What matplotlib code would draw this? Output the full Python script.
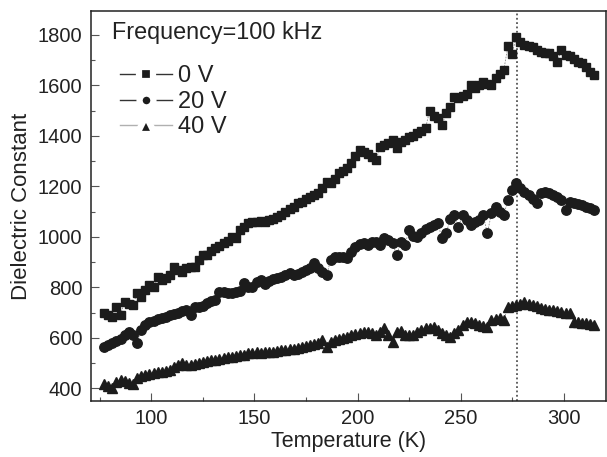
import matplotlib
matplotlib.use("Agg")
import matplotlib.pyplot as plt
from matplotlib.lines import Line2D
from matplotlib.ticker import MultipleLocator

plt.rcParams['font.family'] = ['Liberation Sans', 'DejaVu Sans']

# temperature grid (K)
temp = [77, 79, 81, 83, 85, 87, 89, 91, 93, 95, 97, 99, 101, 103, 105, 107, 109, 111, 113, 115,
        117, 119, 121, 123, 125, 127, 129, 131, 133, 135, 137, 139, 141, 143, 145, 147, 149, 151, 153, 155,
        157, 159, 161, 163, 165, 167, 169, 171, 173, 175, 177, 179, 181, 183, 185, 187, 189, 191, 193, 195,
        197, 199, 201, 203, 205, 207, 209, 211, 213, 215, 217, 219, 221, 223, 225, 227, 229, 231, 233, 235,
        237, 239, 241, 243, 245, 247, 249, 251, 253, 255, 257, 259, 261, 263, 265, 267, 269, 271, 273, 275,
        277, 279, 281, 283, 285, 287, 289, 291, 293, 295, 297, 299, 301, 303, 305, 307, 309, 311, 313, 315]

# 0 V
eps_0v = [700, 690, 684, 724, 692, 744, 735, 730, 777, 763, 790, 810, 803, 843, 829, 836, 850, 882, 870, 862,
          876, 880, 882, 910, 928, 928, 945, 955, 965, 975, 985, 1001, 994, 1027, 1040, 1054, 1060, 1058, 1062, 1060,
          1067, 1070, 1080, 1085, 1100, 1110, 1120, 1135, 1140, 1150, 1159, 1165, 1173, 1195, 1219, 1212, 1230, 1252, 1262, 1272,
          1291, 1320, 1344, 1335, 1328, 1318, 1305, 1357, 1365, 1371, 1384, 1351, 1375, 1384, 1397, 1400, 1410, 1420, 1430, 1500,
          1478, 1470, 1443, 1490, 1515, 1555, 1550, 1560, 1568, 1601, 1590, 1600, 1614, 1605, 1601, 1630, 1645, 1661, 1755, 1725,
          1790, 1773, 1760, 1757, 1753, 1740, 1733, 1730, 1727, 1718, 1694, 1740, 1722, 1716, 1705, 1694, 1687, 1674, 1654, 1641]

# 20 V
eps_20v = [565, 570, 578, 586, 595, 612, 625, 612, 581, 631, 651, 662, 668, 673, 678, 684, 690, 696, 700, 706,
           711, 691, 724, 724, 728, 738, 746, 752, 783, 783, 778, 777, 780, 785, 816, 803, 803, 823, 829, 812,
           826, 833, 836, 843, 850, 856, 849, 855, 862, 870, 878, 895, 876, 860, 849, 909, 920, 922, 920, 915,
           940, 960, 970, 975, 968, 978, 981, 968, 994, 988, 975, 928, 981, 968, 1027, 1005, 1001, 1014, 1030, 1041,
           1047, 1054, 994, 1014, 1070, 1087, 1041, 1087, 1067, 1047, 1060, 1067, 1087, 1014, 1093, 1120, 1100, 1087, 1146, 1186,
           1212, 1192, 1179, 1166, 1150, 1133, 1173, 1179, 1173, 1166, 1160, 1146, 1106, 1140, 1133, 1130, 1126, 1118, 1113, 1107]

# 40 V
eps_40v = [416, 410, 400, 425, 433, 428, 420, 418, 440, 448, 453, 456, 460, 463, 466, 470, 473, 486, 492, 499,
           493, 493, 496, 499, 506, 509, 513, 513, 516, 519, 523, 526, 530, 532, 534, 539, 542, 546, 540, 543,
           546, 546, 549, 552, 552, 555, 557, 559, 563, 567, 572, 575, 580, 592, 562, 585, 590, 595, 598, 604,
           612, 615, 618, 622, 625, 618, 612, 625, 638, 612, 585, 625, 628, 612, 612, 612, 625, 630, 638, 640,
           644, 631, 618, 612, 605, 620, 631, 650, 664, 664, 660, 651, 648, 644, 671, 675, 678, 671, 723, 726,
           730, 736, 743, 736, 730, 726, 717, 715, 712, 711, 708, 704, 700, 697, 664, 662, 660, 658, 655, 651]

labels = ["0 V", "20 V", "40 V"]
markers = ["s", "o", "^"]
t_transition = 277.3

ink = "#1c1c1c"
txt = "#222222"
fig = plt.figure(figsize=(6.07, 4.57), dpi=100)
ax = fig.add_axes([0.1494, 0.1225, 0.8486, 0.8535])

for eps, m, ms in zip([eps_0v, eps_20v, eps_40v], markers, [6.3, 6.8, 6.8]):
    ax.plot(temp, eps, color="#8a8a8a", lw=0.6, ls=(0, (2, 1.5)), zorder=2)
    ax.plot(temp, eps, ls="none", marker=m, ms=ms, color=ink, mec=ink, zorder=3)

ax.axvline(t_transition, color="#555555", ls=(0, (1.0, 1.4)), lw=1.3, zorder=1)

ax.set_xlim(70.5, 320.5)
ax.set_ylim(350, 1895)
ax.xaxis.set_major_locator(MultipleLocator(50))
ax.xaxis.set_minor_locator(MultipleLocator(25))
ax.yaxis.set_major_locator(MultipleLocator(200))
ax.yaxis.set_minor_locator(MultipleLocator(100))
ax.tick_params(which="both", direction="in", color="#555555", labelsize=14.5,
               labelcolor=txt, top=False, right=False)
ax.tick_params(which="major", length=6, width=0.8, pad=6)
ax.tick_params(which="minor", length=3, width=0.8)
for s in ax.spines.values():
    s.set_color(txt)
    s.set_linewidth(1.1)

ax.set_xlabel("Temperature (K)", fontsize=15.5, color=txt, labelpad=2)
ax.set_ylabel("Dielectric Constant", fontsize=16, color=txt, labelpad=4)

ax.text(0.041, 0.944, "Frequency=100 kHz", transform=ax.transAxes, fontsize=16.8,
        color=txt, va="center", ha="left")

# legend handles: marker with a white rim so the line stops short of it
handles = [
    Line2D([], [], color="#333333", lw=1.0, marker="s", ms=9.5, mfc=ink, mec="white", mew=4.5),
    Line2D([], [], color="#333333", lw=1.0, marker="o", ms=10, mfc=ink, mec="white", mew=4.5),
    Line2D([], [], color="#b0b0b0", lw=1.0, marker="^", ms=13.5, mfc=ink, mec="white", mew=4.5),
]
leg = ax.legend(handles, labels, loc="upper left", bbox_to_anchor=(0.038, 0.885),
                frameon=False, fontsize=17, handlelength=2.2, handletextpad=0.25,
                labelspacing=0.15, borderaxespad=0, numpoints=1)
for t in leg.get_texts():
    t.set_color(txt)

fig.savefig("out.png", dpi=100)
